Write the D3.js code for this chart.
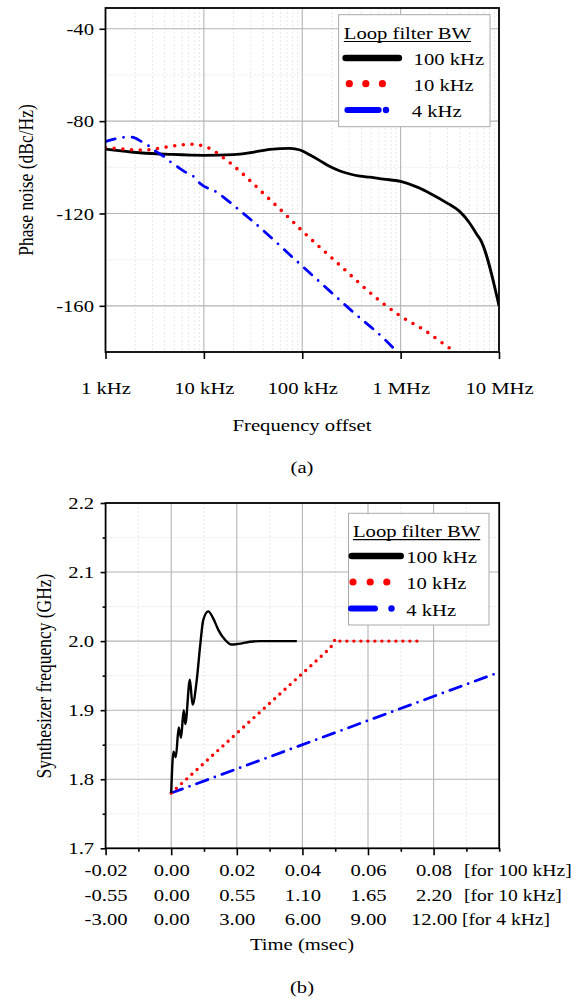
<!DOCTYPE html>
<html>
<head>
<meta charset="utf-8">
<script src="https://cdn.jsdelivr.net/npm/d3@7"></script>
<style>
  body { margin: 0; background: #fff; }
  svg { font-family: "Liberation Serif", "Times New Roman", serif; font-size: 17.5px; fill: #000; }
</style>
</head>
<body>
<svg id="chart" width="577" height="1002"></svg>
<script>
const width = 577;
const height = 1002;
const SX = 1.18; // the source figure is stretched sideways, text included

// ---------- (a) phase noise ----------
const pnTicks = [1e3, 1e4, 1e5, 1e6, 1e7];
const pnTickLabels = ["1 kHz", "10 kHz", "100 kHz", "1 MHz", "10 MHz"];
const pnYTicks = [-40, -80, -120, -160];

const pnFreq100k = [1000, 2240, 4600, 10000, 20000, 29500, 47000, 75000, 95000, 120000, 151000, 191000, 242000, 305000, 386000, 489000, 667000, 1000000, 1500000, 2000000, 3000000, 4000000, 5000000, 6000000, 6500000, 10000000];
const pnDb100k = [-92.1, -93.7, -94.4, -94.8, -94.5, -93.7, -92.2, -91.8, -92.5, -94.7, -97.1, -99.7, -101.6, -102.9, -103.8, -104.3, -105.1, -106.1, -108.7, -111.3, -115.6, -119.2, -124.0, -129.3, -131.5, -160.0];

const pnFreq10k = [1000, 1250, 1520, 1850, 2240, 2790, 3440, 4190, 5200, 6320, 7690, 9500, 11400, 13500, 15700, 18700, 21800, 25100, 29500, 39600, 53800, 72100, 97000, 241000, 617000, 993000, 1740000, 3370000, 3650000];
const pnDb10k = [-91.5, -91.8, -92.1, -92.4, -92.5, -92.4, -91.8, -91.2, -90.6, -90.2, -90.0, -90.6, -91.8, -93.7, -95.8, -98.3, -100.7, -103.0, -105.8, -111.0, -116.4, -121.6, -127.0, -142.4, -157.9, -164.4, -170.5, -179.1, -180.0];

const pnFreq4k = [1000, 1250, 1520, 1850, 2330, 2720, 3180, 4030, 4630, 5370, 6800, 7920, 9100, 13500, 22400, 29500, 100000, 300000, 890000, 960000];
const pnDb4k = [-88.9, -87.7, -87.0, -86.9, -88.9, -90.6, -92.8, -95.7, -97.8, -99.7, -102.6, -104.1, -106.9, -110.8, -118.2, -122.4, -142.8, -161.2, -179.4, -181.0];

// ---------- (b) synthesizer settling ----------
const bTicks = [-0.02, 0.00, 0.02, 0.04, 0.06, 0.08];
const bRow100k = ["-0.02", "0.00", "0.02", "0.04", "0.06", "0.08"];
const bRow10k = ["-0.55", "0.00", "0.55", "1.10", "1.65", "2.20"];
const bRow4k = ["-3.00", "0.00", "3.00", "6.00", "9.00", "12.00"];
const bRowNotes = ["[for 100 kHz]", "[for 10 kHz]", "[for 4 kHz]"];
const bYTicks = [1.7, 1.8, 1.9, 2.0, 2.1, 2.2];

const tb100k = [0, 0.0007, 0.0014, 0.0023, 0.0030, 0.0038, 0.0043, 0.0057, 0.0065, 0.0078, 0.0088, 0.0098, 0.0113, 0.0128, 0.0144, 0.0164, 0.0184, 0.0205, 0.0240, 0.0271, 0.0383];
const fb100k = [1.780, 1.840, 1.832, 1.875, 1.860, 1.900, 1.880, 1.944, 1.908, 1.944, 1.992, 2.031, 2.043, 2.033, 2.016, 2.002, 1.995, 1.996, 1.999, 2.000, 2.000];

const tb10k = [0, 0.0485, 0.0493, 0.0500, 0.0507, 0.0762];
const fb10k = [1.780, 1.990, 1.996, 2.003, 2.000, 2.000];

const tb4k = [0, 0.1];
const fb4k = [1.780, 1.955];

const legendLabels = ["100 kHz", "10 kHz", "4 kHz"];

const svg = d3.select("#chart");

function addText(parent, x, y, str, anchor = "middle", rotate = 0, sx = SX) {
  return parent.append("text")
    .attr("transform", `translate(${x},${y}) scale(${sx},1)` + (rotate ? ` rotate(${rotate})` : ""))
    .attr("text-anchor", anchor)
    .text(str);
}

function cleanAxis(g) {
  g.attr("font-size", null).attr("font-family", null);
  g.select(".domain").remove();
  g.selectAll(".tick line").attr("stroke", "#000").attr("stroke-width", 1.6);
}

function drawFrame(g, x, y, xMinor, yMinor, xMajor, yMajor, id) {
  const [x0, x1] = x.range();
  const [y0, y1] = y.range();
  g.append("clipPath").attr("id", id).append("rect")
    .attr("x", x0).attr("y", y1).attr("width", x1 - x0).attr("height", y0 - y1);

  const grid = g.append("g");
  grid.selectAll(".vminor").data(xMinor).join("line")
    .attr("x1", d => x(d)).attr("x2", d => x(d)).attr("y1", y1).attr("y2", y0)
    .attr("stroke", "#e2e2e2").attr("stroke-width", 0.8).attr("stroke-dasharray", "2,2");
  grid.selectAll(".hminor").data(yMinor).join("line")
    .attr("y1", d => y(d)).attr("y2", d => y(d)).attr("x1", x0).attr("x2", x1)
    .attr("stroke", "#e2e2e2").attr("stroke-width", 0.8).attr("stroke-dasharray", "2,2");
  grid.selectAll(".vmajor").data(xMajor).join("line")
    .attr("x1", d => x(d)).attr("x2", d => x(d)).attr("y1", y1).attr("y2", y0)
    .attr("stroke", "#b4b4b4").attr("stroke-width", 1.1);
  grid.selectAll(".hmajor").data(yMajor).join("line")
    .attr("y1", d => y(d)).attr("y2", d => y(d)).attr("x1", x0).attr("x2", x1)
    .attr("stroke", "#b4b4b4").attr("stroke-width", 1.1);
}

function drawBox(g, x, y) {
  const [x0, x1] = x.range();
  const [y0, y1] = y.range();
  g.append("rect").attr("x", x0).attr("y", y1).attr("width", x1 - x0).attr("height", y0 - y1)
    .attr("fill", "none").attr("stroke", "#000").attr("stroke-width", 1.8);
}

function drawLegend(g, box, items) {
  g.append("rect").attr("x", box.x).attr("y", box.y).attr("width", box.w).attr("height", box.h)
    .attr("fill", "#fff").attr("stroke", "#aaa").attr("stroke-width", 1);
  const title = addText(g, box.titleX, box.titleY, "Loop filter BW", "start");
  const tw = title.node().getComputedTextLength() * SX;
  g.append("line").attr("x1", box.titleX).attr("x2", box.titleX + tw)
    .attr("y1", box.titleY + 3).attr("y2", box.titleY + 3).attr("stroke", "#000").attr("stroke-width", 1.2);

  items.forEach((it, i) => {
    const cy = box.rowY[i] - 7;
    if (i === 0) {
      g.append("line").attr("x1", it.x1).attr("x2", it.x2).attr("y1", cy).attr("y2", cy)
        .attr("stroke", "#000").attr("stroke-width", 6.5).attr("stroke-linecap", "round");
    } else if (i === 1) {
      g.selectAll(null).data(it.dots).join("circle")
        .attr("cx", d => d).attr("cy", cy).attr("r", 3.6).attr("fill", "#ff0000");
    } else {
      g.append("line").attr("x1", it.x1).attr("x2", it.x2).attr("y1", cy).attr("y2", cy)
        .attr("stroke", "#0000ff").attr("stroke-width", 6).attr("stroke-linecap", "round");
      g.append("circle").attr("cx", it.dot).attr("cy", cy).attr("r", 3.2).attr("fill", "#0000ff");
    }
    addText(g, it.tx, box.rowY[i], legendLabels[i], "start");
  });
}

// ===== chart (a) =====
const xA = d3.scaleLog().domain([1e3, 1e7]).range([105.5, 499]);
const yA = d3.scaleLinear().domain([-180, -31]).range([352, 8]);
const gA = svg.append("g");

drawFrame(gA, xA, yA,
  xA.ticks().filter(d => !pnTicks.includes(d)),
  yA.ticks(8).filter(d => !pnYTicks.includes(d) && d > -180),
  pnTicks.slice(1, -1), pnYTicks, "clipA");

const lineA = d3.line().x(d => xA(d[0])).y(d => yA(d[1])).curve(d3.curveMonotoneX);
const curvesA = gA.append("g").attr("clip-path", "url(#clipA)").attr("fill", "none");
curvesA.append("path").datum(d3.zip(pnFreq100k, pnDb100k)).attr("d", lineA)
  .attr("stroke", "#000").attr("stroke-width", 2.8);
curvesA.append("path").datum(d3.zip(pnFreq10k, pnDb10k)).attr("d", lineA)
  .attr("stroke", "#ff0000").attr("stroke-width", 3.6)
  .attr("stroke-linecap", "round").attr("stroke-dasharray", "0 8.7");
curvesA.append("path").datum(d3.zip(pnFreq4k, pnDb4k)).attr("d", lineA)
  .attr("stroke", "#0000ff").attr("stroke-width", 2.8)
  .attr("stroke-linecap", "round").attr("stroke-dasharray", "10 8.6 0 8.6");

drawBox(gA, xA, yA);

gA.append("g").attr("transform", "translate(0,352)")
  .call(d3.axisBottom(xA).tickValues(pnTicks).tickSize(7).tickFormat((d, i) => pnTickLabels[i]))
  .call(cleanAxis)
  .call(g => g.selectAll(".tick text").attr("y", 42).attr("dy", null).attr("transform", `scale(${SX},1)`));

gA.append("g").attr("transform", "translate(105.5,0)")
  .call(d3.axisLeft(yA).tickValues(pnYTicks).tickSize(6).tickFormat(d => String(d)))
  .call(cleanAxis)
  .call(g => g.selectAll(".tick text").attr("x", -11.5 / SX).attr("transform", `scale(${SX},1)`));

addText(gA, 33, 180, "Phase noise (dBc/Hz)", "middle", -90);
addText(gA, 302, 431, "Frequency offset");
addText(gA, 302, 473, "(a)");

drawLegend(gA,
  { x: 338.6, y: 14.7, w: 151.4, h: 112, titleX: 343.8, titleY: 38.5, rowY: [65, 90.7, 117] },
  [
    { x1: 345.6, x2: 398.9, tx: 413.6 },
    { dots: [349.3, 365.8, 382.4], tx: 413.6 },
    { x1: 347.4, x2: 378.7, dot: 386, tx: 411.8 }
  ]);

// ===== chart (b) =====
const xB = d3.scaleLinear().domain([-0.02, 0.10]).range([105.6, 499.2]);
const yB = d3.scaleLinear().domain([1.7, 2.2]).range([848.3, 503]);
const gB = svg.append("g");

const bXMinor = xB.ticks(12).filter(d => !bTicks.some(t => Math.abs(t - d) < 1e-9));
const bYMinor = yB.ticks(10).filter(d => !bYTicks.some(t => Math.abs(t - d) < 1e-9));

drawFrame(gB, xB, yB, bXMinor, bYMinor,
  bTicks.slice(1), bYTicks.slice(1, -1), "clipB");

const lineB = d3.line().x(d => xB(d[0])).y(d => yB(d[1]));
const smoothB = d3.line().x(d => xB(d[0])).y(d => yB(d[1])).curve(d3.curveMonotoneX);
const curvesB = gB.append("g").attr("clip-path", "url(#clipB)").attr("fill", "none");
curvesB.append("path").datum(d3.zip(tb4k, fb4k)).attr("d", lineB)
  .attr("stroke", "#0000ff").attr("stroke-width", 2.8)
  .attr("stroke-linecap", "round").attr("stroke-dasharray", "12 7.5 0 7.5");
curvesB.append("path").datum(d3.zip(tb10k, fb10k)).attr("d", lineB)
  .attr("stroke", "#ff0000").attr("stroke-width", 3.4)
  .attr("stroke-linecap", "round").attr("stroke-dasharray", "0 7");
curvesB.append("path").datum(d3.zip(tb100k, fb100k)).attr("d", smoothB)
  .attr("stroke", "#000").attr("stroke-width", 2.4).attr("stroke-linejoin", "round");

drawBox(gB, xB, yB);

// minor ticks
gB.append("g").attr("transform", "translate(0,848.3)")
  .call(d3.axisBottom(xB).tickValues(bXMinor).tickSize(3.5).tickFormat(""))
  .call(cleanAxis);
gB.append("g").attr("transform", "translate(105.6,0)")
  .call(d3.axisLeft(yB).tickValues(bYMinor).tickSize(3).tickFormat(""))
  .call(cleanAxis);

const bRows = [bRow100k, bRow10k, bRow4k];
const bRowY = [876, 901, 925];
bRows.forEach((row, r) => {
  gB.append("g").attr("transform", "translate(0,848.3)")
    .call(d3.axisBottom(xB).tickValues(bTicks).tickSize(r === 0 ? 7 : 0).tickFormat((d, i) => row[i]))
    .call(cleanAxis)
    .call(g => g.selectAll(".tick text").attr("y", bRowY[r] - 848.3).attr("dy", null).attr("transform", `scale(${SX},1)`));
});
addText(gB, 464, bRowY[0], bRowNotes[0], "start", 0, 1.12);
addText(gB, 464, bRowY[1], bRowNotes[1], "start", 0, 1.12);
addText(gB, 462, bRowY[2], bRowNotes[2], "start", 0, 1.12);

gB.append("g").attr("transform", "translate(105.6,0)")
  .call(d3.axisLeft(yB).tickValues(bYTicks).tickSize(5).tickFormat(d3.format(".1f")))
  .call(cleanAxis)
  .call(g => g.selectAll(".tick text").attr("x", -11.5 / SX).attr("transform", `scale(${SX},1)`));

addText(gB, 51, 676, "Synthesizer frequency (GHz)", "middle", -90);
addText(gB, 302, 950, "Time (msec)");
addText(gB, 302, 993, "(b)");

drawLegend(gB,
  { x: 348.5, y: 513.3, w: 140.5, h: 111.7, titleX: 353, titleY: 536.7, rowY: [563, 589, 615.5] },
  [
    { x1: 351.8, x2: 400.7, tx: 406.3 },
    { dots: [353, 370.2, 386.8], tx: 406.3 },
    { x1: 351, x2: 375, dot: 391.5, tx: 406.3 }
  ]);
</script>
</body>
</html>
